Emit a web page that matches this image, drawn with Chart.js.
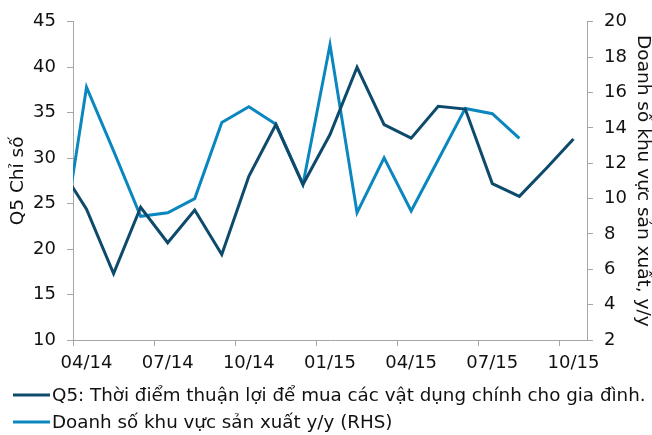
<!DOCTYPE html>
<html>
<head>
<meta charset="utf-8">
<script src="https://cdn.jsdelivr.net/npm/chart.js@4/dist/chart.umd.min.js"></script>
<style>
html,body{margin:0;padding:0;background:#ffffff;overflow:hidden;}
canvas{display:block;}
</style>
</head>
<body>
<canvas id="c" width="652" height="435"></canvas>
<script>
// Monthly observations (mid-month), March 2014 – October 2015
const months = ['03/14','04/14','05/14','06/14','07/14','08/14','09/14','10/14','11/14','12/14',
                '01/15','02/15','03/15','04/15','05/15','06/15','07/15','08/15','09/15','10/15'];
// Q5 index (left axis)
const q5 = [29.1, 24.4, 17.3, 24.6, 20.7, 24.3, 19.4, 28.0, 33.7, 27.1,
            32.6, 40.0, 33.7, 32.2, 35.7, 35.4, 27.2, 25.8, 28.9, 32.1];
// Manufacturing sales y/y (right axis)
const sales = [6.4, 16.3, 12.7, 9.0, 9.2, 10.0, 14.3, 15.2, 14.2, 10.8,
               18.7, 9.2, 12.3, 9.3, 12.2, 15.1, 14.8, 13.4, null, null];
// x-axis tick labels (every 3 months starting 04/14)
const tickLabels = ['04/14','07/14','10/14','01/15','04/15','07/15','10/15'];
const seriesNames = ['Q5: Thời điểm thuận lợi để mua các vật dụng chính cho gia đình.',
                     'Doanh số khu vực sản xuất y/y (RHS)'];
const leftTitle = 'Q5 Chỉ số';
const rightTitle = 'Doanh số khu vực sản xuất, y/y';

const FONT = '"DejaVu Sans", Verdana, sans-serif';
const TEXT = '#111111';
const AXIS = '#a6a6a6';
const DARK = '#0e4a6b';
const LIGHT = '#0b87c0';

// month index 0 = March 2014; axis origin (0) = start of April 2014; points at mid-month
const toPoints = arr => arr.map((v, i) => ({x: i - 0.5, y: v}));

const refLegend = {
  id: 'refLegend',
  afterDraw(chart) {
    const ctx = chart.ctx;
    ctx.save();
    chart.data.datasets.forEach((ds, i) => {
      const y = 395 + 27 * i;
      ctx.strokeStyle = ds.borderColor;
      ctx.lineWidth = 3;
      ctx.beginPath();
      ctx.moveTo(13, y);
      ctx.lineTo(50, y);
      ctx.stroke();
      ctx.fillStyle = TEXT;
      ctx.font = '18.3px ' + FONT;
      ctx.textBaseline = 'middle';
      ctx.textAlign = 'left';
      ctx.fillText(ds.label, 52, y + 1);
    });
    ctx.restore();
  }
};

new Chart(document.getElementById('c'), {
  type: 'line',
  data: {
    datasets: [
      {label: seriesNames[0], data: toPoints(q5), yAxisID: 'y', borderColor: DARK, backgroundColor: DARK,
       borderWidth: 3, pointRadius: 0, tension: 0, clip: 0, spanGaps: false},
      {label: seriesNames[1], data: toPoints(sales), yAxisID: 'y1', borderColor: LIGHT, backgroundColor: LIGHT,
       borderWidth: 3, pointRadius: 0, tension: 0, clip: 0, spanGaps: false}
    ]
  },
  options: {
    responsive: false,
    animation: false,
    events: [],
    layout: {padding: {left: 0, right: 0, top: 13, bottom: 55}},
    plugins: {legend: {display: false}, tooltip: {enabled: false}, title: {display: false}},
    font: {family: FONT},
    scales: {
      x: {
        type: 'linear', position: 'bottom', min: 0, max: 19,
        grid: {drawOnChartArea: false, drawTicks: true, tickLength: 6, color: AXIS},
        border: {display: true, color: AXIS, width: 1},
        ticks: {stepSize: 3, includeBounds: false, autoSkip: false, maxRotation: 0, minRotation: 0,
                labelOffset: 13.5, padding: 7, color: TEXT, font: {family: FONT, size: 18},
                callback: v => (v % 3 === 0 ? (tickLabels[v / 3] || '') : '')},
        afterFit: s => { s.height = 40; }
      },
      y: {
        type: 'linear', position: 'left', min: 10, max: 45,
        grid: {drawOnChartArea: false, drawTicks: true, tickLength: 6, color: AXIS},
        border: {display: true, color: AXIS, width: 1},
        ticks: {stepSize: 5, padding: 11, color: TEXT, font: {family: FONT, size: 18}},
        title: {display: true, text: leftTitle, color: TEXT, font: {family: FONT, size: 18.5, lineHeight: 1.2},
                padding: {top: 7, bottom: 0}},
        afterFit: s => { s.width = 73; }
      },
      y1: {
        type: 'linear', position: 'right', min: 2, max: 20,
        grid: {drawOnChartArea: false, drawTicks: true, tickLength: 6, color: AXIS},
        border: {display: true, color: AXIS, width: 1},
        ticks: {stepSize: 2, padding: 11, color: TEXT, font: {family: FONT, size: 18}},
        title: {display: true, text: rightTitle, color: TEXT, font: {family: FONT, size: 18.5, lineHeight: 1.0},
                padding: {top: 0, bottom: 0}},
        afterFit: s => { s.width = 65; }
      }
    }
  },
  plugins: [refLegend]
});
</script>
</body>
</html>
